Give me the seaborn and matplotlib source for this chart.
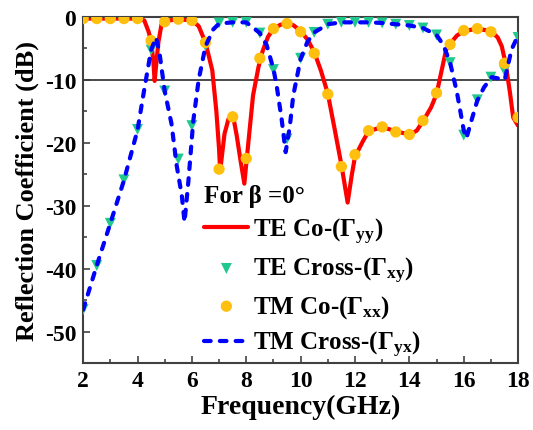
import numpy as np
import pandas as pd
import seaborn as sns
import matplotlib.pyplot as plt
from matplotlib.ticker import MultipleLocator

# --- данные ---
# TE Co (сплошная красная линия)
te_co_freq = [2.0, 2.5, 3.0, 3.5, 4.0, 4.25, 4.4, 4.5, 4.58, 4.63, 4.7, 4.77, 4.88, 5.0,
              5.5, 6.0, 6.25, 6.5, 6.75, 6.9, 7.0, 7.04, 7.2, 7.35, 7.5, 7.65, 7.8, 7.93,
              8.02, 8.25, 8.45, 8.6, 8.8, 9.0, 9.25, 9.5, 9.75, 10.0, 10.25, 10.5, 10.75,
              11.0, 11.25, 11.5, 11.73, 11.88, 12.0, 12.3, 12.5, 13.0, 13.5, 14.0, 14.27,
              14.5, 14.8, 15.0, 15.2, 15.35, 15.5, 15.75, 16.0, 16.5, 17.0, 17.25, 17.4,
              17.54, 17.7, 17.82, 18.0]
te_co_db = [-0.3, -0.3, -0.3, -0.3, -0.3, -0.6, -2.3, -3.8, -7.0, -10.2, -7.0, -4.0, -1.3, -0.7,
            -0.4, -0.6, -1.5, -4.1, -8.5, -15.0, -21.0, -24.5, -18.6, -16.2, -15.4, -18.9, -23.1, -26.5,
            -22.5, -12.5, -8.0, -5.5, -3.2, -1.9, -1.3, -1.0, -1.4, -2.3, -3.6, -5.6, -8.6,
            -12.2, -17.8, -23.5, -29.5, -25.2, -22.2, -19.7, -18.2, -17.5, -18.2, -18.7, -18.1,
            -16.6, -14.4, -12.3, -8.3, -5.3, -4.3, -3.0, -2.3, -1.9, -2.3, -3.3, -4.7,
            -7.4, -12.0, -16.0, -17.3]

# TM Cross (синяя пунктирная линия)
tm_cross_freq = [2.0, 2.5, 3.0, 3.5, 4.0, 4.25, 4.5, 4.68, 4.8, 5.0, 5.25, 5.44, 5.63, 5.73,
                 5.87, 6.05, 6.25, 6.5, 6.79, 7.0, 7.5, 8.0, 8.5, 8.75, 9.0, 9.12, 9.3, 9.45,
                 9.6, 9.73, 10.0, 10.25, 10.5, 11.0, 11.5, 12.0, 12.5, 13.0, 13.5, 14.0, 14.5,
                 15.0, 15.25, 15.5, 15.75, 16.0, 16.1, 16.25, 16.5, 16.75, 17.03, 17.51, 17.76, 18.0]
tm_cross_db = [-46.5, -39.5, -32.8, -26.0, -18.0, -11.5, -5.3, -3.3, -5.5, -11.8, -17.0, -23.6, -28.4, -32.6,
               -26.2, -16.6, -10.0, -4.7, -2.0, -1.1, -0.9, -0.9, -2.6, -4.5, -8.3, -11.0, -16.2, -21.5,
               -17.5, -12.5, -6.7, -4.0, -2.5, -1.2, -0.9, -0.9, -0.9, -1.0, -1.2, -1.4, -1.8,
               -2.9, -4.5, -7.3, -12.0, -18.0, -19.3, -17.0, -13.3, -11.2, -9.6, -10.0, -5.2, -3.0]

# маркеры: TE Cross (треугольники) и TM Co (кружки), шаг 0.5 ГГц
marker_freq = [2.0, 2.5, 3.0, 3.5, 4.0, 4.5, 5.0, 5.5, 6.0, 6.5, 7.0, 7.5, 8.0, 8.5, 9.0, 9.5, 10.0,
               10.5, 11.0, 11.5, 12.0, 12.5, 13.0, 13.5, 14.0, 14.5, 15.0, 15.5, 16.0, 16.5, 17.0,
               17.5, 18.0]
te_cross_db = [-46.5, -39.5, -32.8, -25.9, -17.9, -5.3, -11.8, -22.6, -17.3, -4.6, -1.0, -0.9, -0.9,
               -2.6, -8.4, -19.4, -6.6, -2.5, -1.2, -0.9, -0.9, -0.9, -1.0, -1.2, -1.4, -1.8, -2.9,
               -7.3, -18.8, -13.2, -9.6, -8.6, -3.3]
tm_co_db = [-0.3, -0.3, -0.3, -0.3, -0.3, -3.8, -0.8, -0.4, -0.6, -4.1, -24.2, -15.9, -22.5, -6.6,
            -1.9, -1.1, -2.4, -5.8, -12.3, -23.8, -21.9, -18.1, -17.5, -18.3, -18.7, -16.5, -12.1,
            -4.4, -2.2, -1.9, -2.4, -7.4, -16.0]

labels = [r'TE Co-($\Gamma_{yy}$)', r'TE Cross-($\Gamma_{xy}$)',
          r'TM Co-($\Gamma_{xx}$)', r'TM Cross-($\Gamma_{yx}$)']

sns.set_theme(style='ticks')
plt.rcParams['font.family'] = ['Liberation Serif', 'DejaVu Serif']
plt.rcParams['font.weight'] = 'bold'
plt.rcParams['mathtext.fontset'] = 'custom'
plt.rcParams['mathtext.rm'] = 'Liberation Serif:bold'
plt.rcParams['mathtext.it'] = 'Liberation Serif:bold'
plt.rcParams['mathtext.bf'] = 'Liberation Serif:bold'
plt.rcParams['axes.unicode_minus'] = False
plt.rcParams['text.color'] = 'black'
plt.rcParams['axes.labelcolor'] = 'black'
plt.rcParams['xtick.labelcolor'] = 'black'
plt.rcParams['ytick.labelcolor'] = 'black'

fig, ax = plt.subplots(figsize=(5.33, 4.31), dpi=100)
fig.subplots_adjust(left=0.156, right=0.972, bottom=0.155, top=0.959)

ax.axhline(-10, color='#3c3c3c', lw=1.3, zorder=1)

sns.lineplot(x=te_co_freq, y=te_co_db, color='#ff0000', lw=3, sort=False,
             label=labels[0], ax=ax, zorder=2)
sns.scatterplot(x=marker_freq, y=te_cross_db, marker='v', s=62, color='#1fc98e',
                edgecolor='none', label=labels[1], ax=ax, zorder=3)
sns.scatterplot(x=marker_freq, y=tm_co_db, marker='o', s=66, color='#ffbf0f',
                edgecolor='none', label=labels[2], ax=ax, zorder=3)
sns.lineplot(x=tm_cross_freq, y=tm_cross_db, color='#0000ff', lw=3, sort=False,
             linestyle=(0, (1.6, 2.2)), dash_capstyle='round',
             label=labels[3], ax=ax, zorder=4)

ax.set_xlim(2, 18)
ax.set_ylim(-55, 0)
ax.xaxis.set_major_locator(MultipleLocator(2))
ax.xaxis.set_minor_locator(MultipleLocator(1))
ax.yaxis.set_major_locator(MultipleLocator(10))
ax.yaxis.set_minor_locator(MultipleLocator(5))
ax.tick_params(which='both', direction='in', width=1.1, color='#333333',
               labelsize=17, labelcolor='black', pad=5)
ax.tick_params(which='major', length=5)
ax.tick_params(which='minor', length=3)
for s in ax.spines.values():
    s.set_linewidth(1.5)
    s.set_color('#404040')

ax.set_xlabel('Frequency(GHz)', fontsize=20, fontweight='bold', labelpad=2)
ax.set_ylabel('Reflection Coefficient (dB)', fontsize=19, fontweight='bold', labelpad=4)

handles, labs = ax.get_legend_handles_labels()
ax.legend(handles, labs, loc='lower left', bbox_to_anchor=(0.279, 0.012), frameon=False,
          title='For β =0°', title_fontproperties={'weight': 'bold', 'size': 18},
          alignment='left', prop={'weight': 'bold', 'size': 18},
          handlelength=1.75, handletextpad=0.2, labelspacing=0.35,
          borderpad=0, borderaxespad=0, scatterpoints=1)

fig.savefig('out.png', dpi=100)
